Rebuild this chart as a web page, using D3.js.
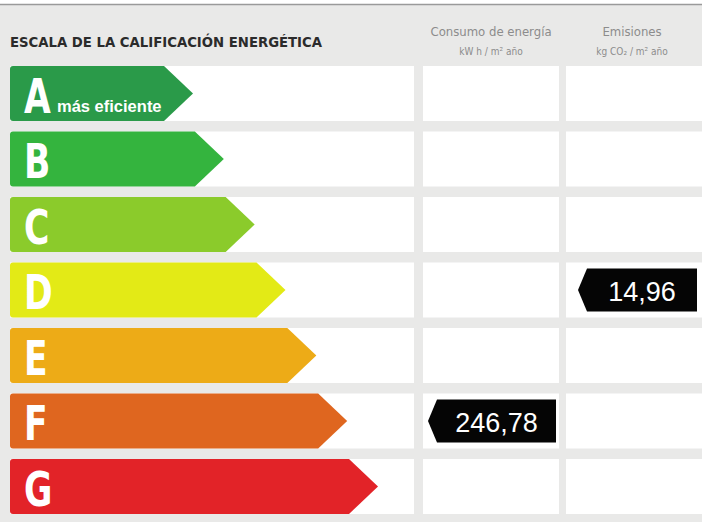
<!DOCTYPE html>
<html>
<head>
<meta charset="utf-8">
<script src="https://cdn.jsdelivr.net/npm/d3@7"></script>
<style>
  html, body { margin: 0; padding: 0; background: #ffffff; }
  svg { display: block; }
</style>
</head>
<body>
<script>
// energy rating classes, top (best) to bottom (worst)
const classes = ["A", "B", "C", "D", "E", "F", "G"]
const classColors = ["#2a9a49", "#34b43e", "#8bcb2b", "#e3ea16", "#edab17", "#df661f", "#e22328"]
const classNotes = ["más eficiente", "", "", "", "", "", ""]

const title = "ESCALA DE LA CALIFICACIÓN ENERGÉTICA"
const columnTitles = ["Consumo de energía", "Emisiones"]
const columnUnits = ["kW h / m\u00b2 año", "kg CO\u2082 / m\u00b2 año"]

// values shown in black tags
const tagColumns = ["consumo", "emisiones"]
const tagClasses = ["F", "D"]
const tagLabels = ["246,78", "14,96"]

const width = 702
const height = 525

const svg = d3.select("body")
    .append("svg")
    .attr("width", width)
    .attr("height", height)
    .style("font-family", "'Liberation Sans', Arial, sans-serif")

// grey board under the line on top
svg.append("rect")
    .attr("x", 0).attr("y", 5)
    .attr("width", width).attr("height", height - 8)
    .attr("fill", "#e9e9e8")
svg.append("line")
    .attr("x1", 0).attr("x2", width)
    .attr("y1", 4.5).attr("y2", 4.5)
    .attr("stroke", "#9a9a9a").attr("stroke-width", 1.5)

// rows
const y = d3.scaleBand()
    .domain(classes)
    .range([60.75, 60.75 + 7 * 65.5])
    .paddingInner(0.16)
    .paddingOuter(0.08)

// columns: scale, consumo, emisiones
const x = d3.scaleOrdinal()
    .domain(["escala", "consumo", "emisiones"])
    .range([[10, 414], [423, 559], [566, 704]])

// arrow tip position grows with the class index
const tipX = d3.scaleLinear()
    .domain([0, classes.length - 1])
    .range([193, 378])

const arrowDepth = 29

// white cells
const cells = []
classes.forEach(c => x.domain().forEach(col => cells.push({c, col})))
svg.append("g").selectAll("rect")
    .data(cells)
    .join("rect")
    .attr("x", d => x(d.col)[0])
    .attr("y", d => y(d.c))
    .attr("width", d => x(d.col)[1] - x(d.col)[0])
    .attr("height", y.bandwidth())
    .attr("fill", "#ffffff")

// coloured arrows
const bars = svg.append("g").selectAll("g")
    .data(classes)
    .join("g")

bars.append("path")
    .attr("d", (c, i) => {
        const x0 = x("escala")[0]
        const t = tipX(i)
        const y0 = y(c)
        const h = y.bandwidth()
        const r = 3
        return `M${x0 + r},${y0} L${t - arrowDepth},${y0} L${t},${y0 + h / 2} L${t - arrowDepth},${y0 + h}
                L${x0 + r},${y0 + h} Q${x0},${y0 + h} ${x0},${y0 + h - r} L${x0},${y0 + r} Q${x0},${y0} ${x0 + r},${y0} Z`
    })
    .attr("fill", (c, i) => classColors[i])

bars.append("text")
    .attr("transform", c => `translate(24,${y(c) + 47}) scale(0.8,1)`)
    .attr("font-family", "'Liberation Sans Narrow', 'DejaVu Sans Condensed', sans-serif")
    .attr("font-weight", "bold")
    .attr("font-size", 48)
    .attr("fill", "#ffffff")
    .text(c => c)

bars.append("text")
    .attr("x", 57)
    .attr("y", c => y(c) + 46)
    .attr("font-weight", "bold")
    .attr("font-size", 16.5)
    .attr("fill", "#ffffff")
    .text((c, i) => classNotes[i])

// header
svg.append("text")
    .attr("x", 10).attr("y", 47)
    .attr("font-family", "'Liberation Sans Narrow', 'DejaVu Sans Condensed', sans-serif")
    .attr("font-weight", "bold")
    .attr("font-size", 14.5)
    .attr("fill", "#2b2b2b")
    .attr("textLength", 312)
    .attr("lengthAdjust", "spacingAndGlyphs")
    .text(title)

const headCols = ["consumo", "emisiones"]
const head = svg.append("g").selectAll("g")
    .data(headCols)
    .join("g")
    .attr("transform", d => `translate(${d3.mean(x(d)) - (d === "emisiones" ? 3 : 0)},0)`)
    .attr("font-family", "'Liberation Sans Narrow', 'DejaVu Sans Condensed', sans-serif")
    .attr("fill", "#8c8c8c")
    .attr("text-anchor", "middle")

head.append("text")
    .attr("y", 36)
    .attr("font-size", 13)
    .text((d, i) => columnTitles[i])
head.append("text")
    .attr("y", 55)
    .attr("font-size", 10)
    .text((d, i) => columnUnits[i])

// black value tags
const tagInset = 6
const tagNotch = 9
const tagLeft = d => x(d.col)[0] + (d.col === "emisiones" ? 12 : 5)
const tagRight = d => x(d.col)[1] - (d.col === "emisiones" ? 7 : 3)

const tags = svg.append("g").selectAll("g")
    .data(tagClasses.map((c, i) => ({c, col: tagColumns[i], label: tagLabels[i]})))
    .join("g")

tags.append("path")
    .attr("d", d => {
        const x0 = tagLeft(d)
        const x1 = tagRight(d)
        const y0 = y(d.c) + tagInset
        const h = y.bandwidth() - 2 * tagInset
        return `M${x0 + tagNotch},${y0} L${x1},${y0} L${x1},${y0 + h} L${x0 + tagNotch},${y0 + h} L${x0},${y0 + h / 2} Z`
    })
    .attr("fill", "#050505")

tags.append("text")
    .attr("x", d => (tagLeft(d) + tagNotch + tagRight(d)) / 2)
    .attr("y", d => y(d.c) + 39)
    .attr("text-anchor", "middle")
    .attr("font-size", 27)
    .attr("fill", "#ffffff")
    .text(d => d.label)
</script>
</body>
</html>
